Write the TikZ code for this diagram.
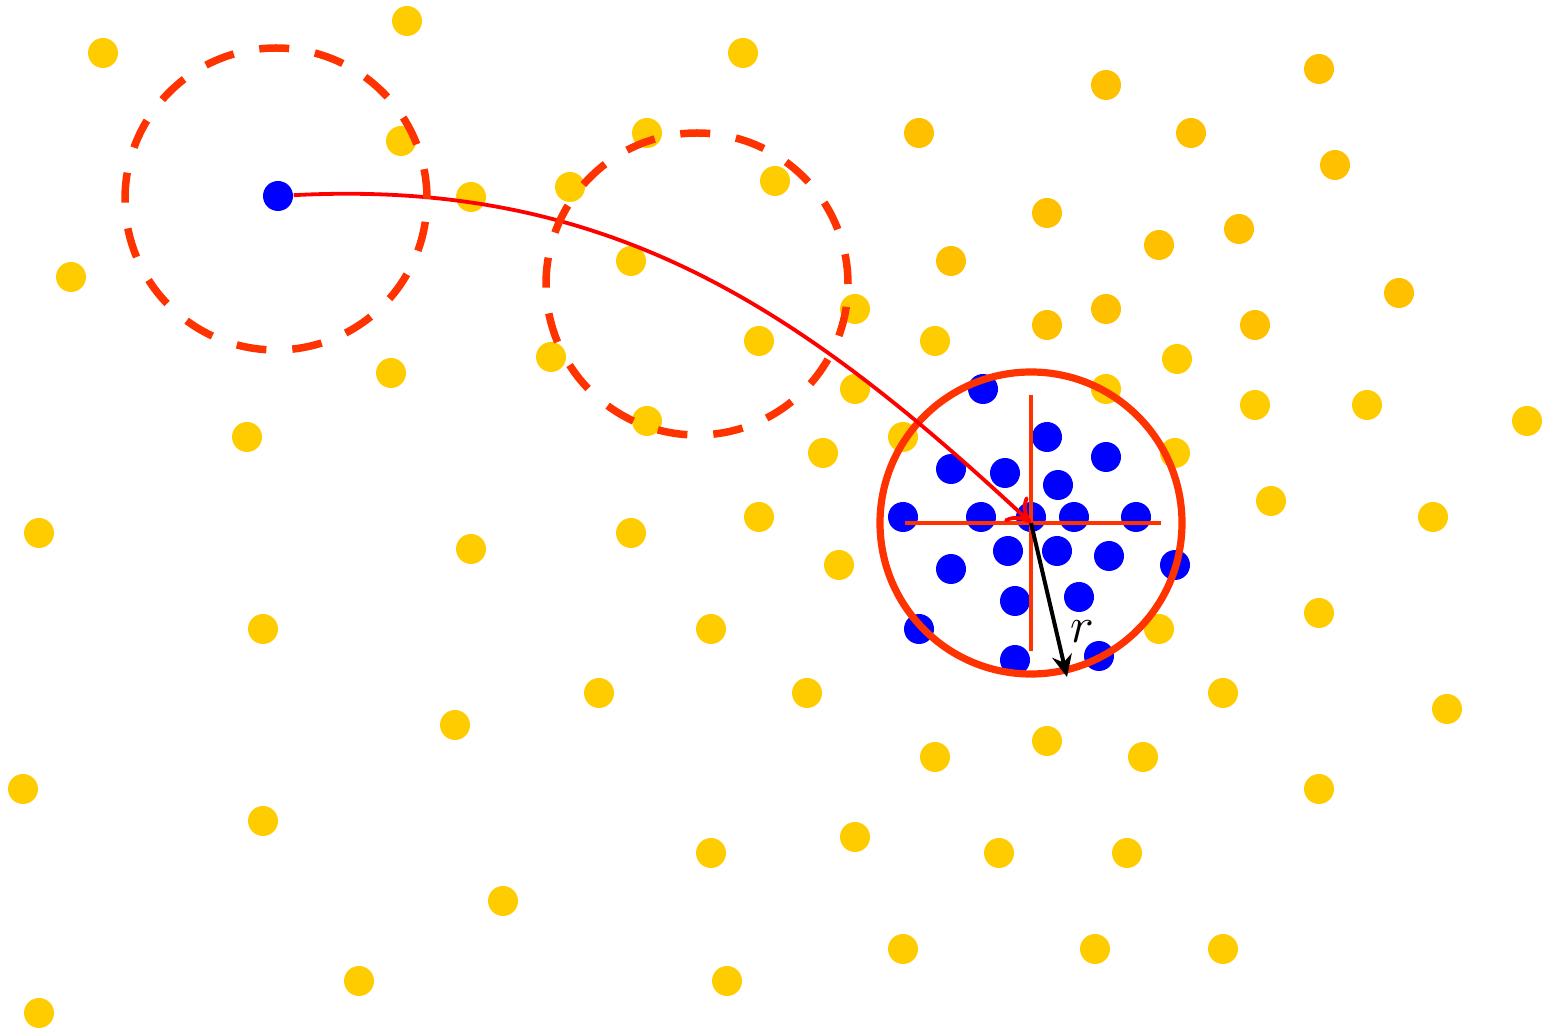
\documentclass[tikz,border=0pt]{standalone}
\usepackage{xcolor}
\usepackage{tikz}
\usetikzlibrary{arrows.meta}

\definecolor{dotyellow}{HTML}{FFCC00}
\definecolor{dotgold}{HTML}{FFC000}
\definecolor{hitblue}{HTML}{0000FF}
\definecolor{ringred}{HTML}{FF3300}
\definecolor{pathred}{HTML}{FF0000}

\begin{document}
\begin{tikzpicture}[
  every node/.style={font=\Large},
  pdot/.style={circle, inner sep=0pt, minimum size=0.30cm},
  ydot/.style={pdot, fill=dotyellow},
  gdot/.style={pdot, fill=dotgold},
  bdot/.style={pdot, fill=hitblue},
  probe/.style={circle, draw=ringred, line width=0.075cm, minimum size=3.02cm,
                dash pattern=on 0.30cm off 0.26cm},
  ball/.style={circle, draw=ringred, line width=0.072cm, minimum size=3.02cm,
               outer sep=0pt},
  crossline/.style={draw=ringred, line width=0.036cm},
  arrow/.style={-{Computer Modern Rightarrow[length=2.2mm, width=3.4mm]},
                line width=0.038cm, pathred},
  radius/.style={-{Stealth[length=2.2mm, width=2mm]}, line width=0.04cm, black}
]
  \useasboundingbox (0,0) rectangle (15.44,-10.31);

  % Yellow points
  \node[ydot] (y1)  at (1.03,-0.53)  {};
  \node[ydot] (y2)  at (4.07,-0.21)  {};
  \node[ydot] (y3)  at (7.43,-0.53)  {};
  \node[ydot] (y4)  at (6.47,-1.33)  {};
  \node[ydot] (y5)  at (4.01,-1.41)  {};
  \node[ydot] (y6)  at (4.71,-1.97)  {};
  \node[ydot] (y7)  at (5.70,-1.87)  {};
  \node[ydot] (y8)  at (7.75,-1.81)  {};
  \node[ydot] (y9)  at (0.71,-2.77)  {};
  \node[ydot] (y10) at (6.31,-2.61)  {};
  \node[ydot] (y11) at (8.55,-3.09)  {};
  \node[ydot] (y12) at (7.59,-3.41)  {};
  \node[ydot] (y13) at (9.35,-3.41)  {};
  \node[ydot] (y14) at (5.51,-3.57)  {};
  \node[ydot] (y15) at (3.91,-3.73)  {};
  \node[ydot] (y16) at (8.55,-3.89)  {};
  \node[ydot] (y17) at (11.06,-3.89) {};
  \node[ydot] (y18) at (11.77,-3.59) {};
  \node[ydot] (y19) at (12.55,-4.05) {};
  \node[ydot] (y20) at (13.67,-4.05) {};
  \node[ydot] (y21) at (15.27,-4.21) {};
  \node[ydot] (y22) at (6.47,-4.21)  {};
  \node[ydot] (y23) at (2.47,-4.37)  {};
  \node[ydot] (y24) at (9.03,-4.37)  {};
  \node[ydot] (y25) at (8.23,-4.53)  {};
  \node[ydot] (y26) at (11.75,-4.53) {};
  \node[ydot] (y27) at (12.71,-5.01) {};
  \node[ydot] (y28) at (0.39,-5.33)  {};
  \node[ydot] (y29) at (4.71,-5.49)  {};
  \node[ydot] (y30) at (6.31,-5.33)  {};
  \node[ydot] (y31) at (7.59,-5.17)  {};
  \node[ydot] (y32) at (14.33,-5.17) {};
  \node[ydot] (y33) at (8.39,-5.65)  {};
  \node[ydot] (y34) at (2.63,-6.29)  {};
  \node[ydot] (y35) at (7.11,-6.29)  {};
  \node[ydot] (y36) at (11.59,-6.29) {};
  \node[ydot] (y37) at (13.19,-6.13) {};
  \node[ydot] (y38) at (5.99,-6.93)  {};
  \node[ydot] (y39) at (8.07,-6.93)  {};
  \node[ydot] (y40) at (12.23,-6.93) {};
  \node[ydot] (y41) at (4.55,-7.25)  {};
  \node[ydot] (y42) at (14.47,-7.09) {};
  \node[ydot] (y43) at (9.35,-7.57)  {};
  \node[ydot] (y44) at (10.47,-7.41) {};
  \node[ydot] (y45) at (11.43,-7.57) {};
  \node[ydot] (y46) at (0.23,-7.89)  {};
  \node[ydot] (y47) at (13.19,-7.89) {};
  \node[ydot] (y48) at (2.63,-8.21)  {};
  \node[ydot] (y49) at (7.11,-8.53)  {};
  \node[ydot] (y50) at (8.55,-8.37)  {};
  \node[ydot] (y51) at (9.99,-8.53)  {};
  \node[ydot] (y52) at (11.27,-8.53) {};
  \node[ydot] (y53) at (5.03,-9.01)  {};
  \node[ydot] (y54) at (9.03,-9.49)  {};
  \node[ydot] (y55) at (10.95,-9.49) {};
  \node[ydot] (y56) at (12.23,-9.49) {};
  \node[ydot] (y57) at (3.59,-9.81)  {};
  \node[ydot] (y58) at (7.27,-9.81)  {};
  \node[ydot] (y59) at (0.39,-10.13) {};

  % Darker yellow points (upper right)
  \node[gdot] (g1)  at (11.06,-0.85) {};
  \node[gdot] (g2)  at (13.19,-0.69) {};
  \node[gdot] (g3)  at (9.19,-1.33)  {};
  \node[gdot] (g4)  at (11.91,-1.33) {};
  \node[gdot] (g5)  at (13.35,-1.65) {};
  \node[gdot] (g6)  at (10.47,-2.13) {};
  \node[gdot] (g7)  at (12.39,-2.29) {};
  \node[gdot] (g8)  at (11.59,-2.45) {};
  \node[gdot] (g9)  at (9.51,-2.61)  {};
  \node[gdot] (g10) at (13.99,-2.93) {};
  \node[gdot] (g11) at (11.06,-3.09) {};
  \node[gdot] (g12) at (10.47,-3.25) {};
  \node[gdot] (g13) at (12.55,-3.25) {};

  % Blue points
  \node[bdot] (b0)  at (2.78,-1.96)  {};
  \node[bdot] (b1)  at (9.83,-3.89)  {};
  \node[bdot] (b2)  at (10.47,-4.37) {};
  \node[bdot] (b3)  at (11.06,-4.57) {};
  \node[bdot] (b4)  at (9.51,-4.69)  {};
  \node[bdot] (b5)  at (10.05,-4.73) {};
  \node[bdot] (b6)  at (10.58,-4.85) {};
  \node[bdot] (b7)  at (9.03,-5.17)  {};
  \node[bdot] (b8)  at (9.81,-5.17)  {};
  \node[bdot] (b9)  at (10.31,-5.17) {};
  \node[bdot] (b10) at (10.74,-5.17) {};
  \node[bdot] (b11) at (11.36,-5.17) {};
  \node[bdot] (b12) at (10.08,-5.51) {};
  \node[bdot] (b13) at (10.57,-5.51) {};
  \node[bdot] (b14) at (11.09,-5.56) {};
  \node[bdot] (b15) at (9.51,-5.69)  {};
  \node[bdot] (b16) at (11.75,-5.65) {};
  \node[bdot] (b17) at (10.15,-6.01) {};
  \node[bdot] (b18) at (10.79,-5.97) {};
  \node[bdot] (b19) at (9.19,-6.29)  {};
  \node[bdot] (b20) at (10.15,-6.60) {};
  \node[bdot] (b21) at (10.99,-6.56) {};

  % Neighbourhood of the query point
  \coordinate (ctr) at (10.31,-5.23);
  \node[ball] (nbhd) at (ctr) {};
  \coordinate (hl) at (9.05,-5.23);
  \coordinate (hr) at (11.61,-5.23);
  \coordinate (vt) at (10.31,-3.95);
  \coordinate (vb) at (10.31,-6.51);
  \draw[crossline] (hl) -- (hr);
  \draw[crossline] (vt) -- (vb);

  % Path of the moving point
  \draw[arrow] (b0) to[out=3, in=137] (ctr);

  % Earlier positions
  \node[probe] (p1) at (2.76,-1.99) {};
  \node[probe] (p2) at (6.97,-2.84) {};

  % Radius
  \coordinate (rim) at (10.67,-6.77);
  \draw[radius] (ctr) -- (rim);
  \node (rlab) at (10.82,-6.32) {$r$};
\end{tikzpicture}
\end{document}
